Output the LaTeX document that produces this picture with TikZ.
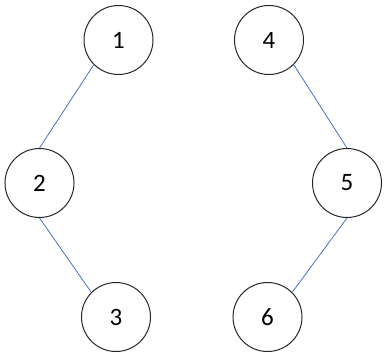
\documentclass[tikz,border=0pt]{standalone}
\usepackage{fontspec}
\setmainfont{Carlito}
\definecolor{edgeblue}{HTML}{4472C4}
\begin{document}
\begin{tikzpicture}[
	x=1pt, y=-1pt,
	% Define the style for the nodes
	every node/.style={circle, draw=black!85, line width=1pt, minimum size=69pt, inner sep=0pt, font=\fontsize{25}{25}\selectfont}
	]
	\useasboundingbox (0,0) rectangle (387,355);
	
	% --- VERTICES ---
	\node (v1) at (118.5, 40) {1};
	\node (v2) at (39.5, 183) {2};
	\node (v3) at (116, 317) {3};
	\node (v4) at (269, 40) {4};
	\node (v5) at (347, 183) {5};
	\node (v6) at (267.5, 317) {6};
	
	% --- EDGES ---
	\draw[edgeblue, line width=0.8pt] (v1.south west) -- (v2.north); % left top
	\draw[edgeblue, line width=0.8pt] (v2.south) -- (v3.north west); % left bottom
	\draw[edgeblue, line width=0.8pt] (v4.south east) -- (v5.north); % right top
	\draw[edgeblue, line width=0.8pt] (v5.south) -- (v6.north east); % right bottom
	
\end{tikzpicture}
\end{document}
